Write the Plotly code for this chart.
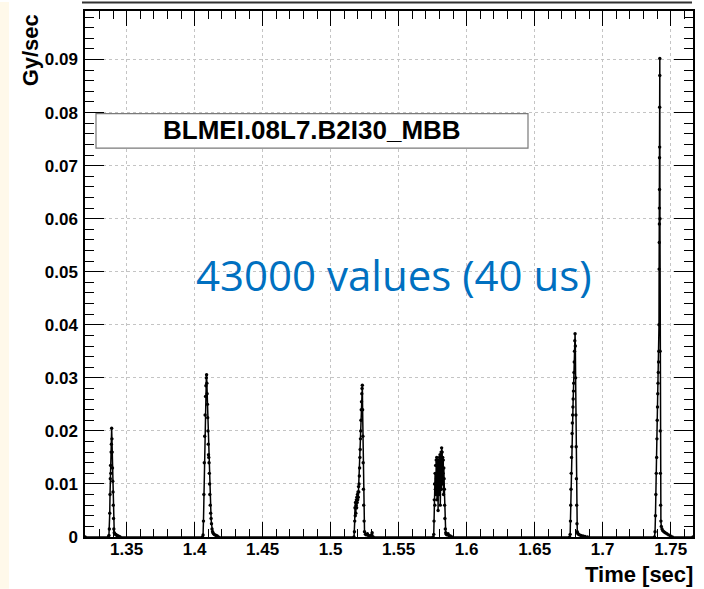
import plotly.graph_objects as go

# ---- data (time [s], dose rate [Gy/s]) ----
base_t = [1.3195, 1.7664]
base_v = [0.0, 0.0]

p1_t = [1.3366, 1.3370, 1.3373, 1.3376, 1.3378, 1.3380, 1.3382, 1.3384, 1.3386, 1.3388,
        1.3390, 1.3392, 1.3394, 1.3396, 1.3398, 1.3400, 1.3402, 1.3404, 1.3406, 1.3409,
        1.3413, 1.3418, 1.3424, 1.3430, 1.3437, 1.3445, 1.3452]
p1_v = [0.0, 0.0003, 0.0015, 0.0045, 0.0080, 0.0110, 0.0135, 0.0120, 0.0160, 0.0175,
        0.0205, 0.0185, 0.0160, 0.0130, 0.0105, 0.0085, 0.0060, 0.0035, 0.0015, 0.0008,
        0.0006, 0.0005, 0.0004, 0.0003, 0.0002, 0.0001, 0.0]

p2_t = [1.4058, 1.4062, 1.4065, 1.4068, 1.4071, 1.4074, 1.4077, 1.4080, 1.4083, 1.4086,
        1.4088, 1.4090, 1.4092, 1.4094, 1.4096, 1.4098, 1.4100, 1.4102, 1.4104, 1.4106,
        1.4108, 1.4110, 1.4112, 1.4115, 1.4118, 1.4121, 1.4124, 1.4128, 1.4132, 1.4137,
        1.4143, 1.4150, 1.4158, 1.4166, 1.4175]
p2_v = [0.0, 0.0004, 0.0030, 0.0080, 0.0140, 0.0190, 0.0230, 0.0265, 0.0285, 0.0300,
        0.0306, 0.0290, 0.0270, 0.0250, 0.0225, 0.0200, 0.0175, 0.0155, 0.0150, 0.0140,
        0.0120, 0.0100, 0.0080, 0.0060, 0.0045, 0.0035, 0.0025, 0.0015, 0.0010, 0.0007,
        0.0005, 0.0004, 0.0003, 0.0002, 0.0]

p3_t = [1.5172, 1.5175, 1.5177, 1.5179, 1.5181, 1.5183, 1.5185, 1.5187, 1.5189, 1.5191,
        1.5193, 1.5195, 1.5197, 1.5199, 1.5201, 1.5203, 1.5205, 1.5207, 1.5209, 1.5211,
        1.5213, 1.5215, 1.5217, 1.5219, 1.5221, 1.5223, 1.5225, 1.5227, 1.5229, 1.5231,
        1.5233, 1.5235, 1.5237, 1.5239, 1.5241, 1.5243, 1.5246, 1.5249, 1.5256, 1.5263,
        1.5270, 1.5278, 1.5286, 1.5300, 1.5305, 1.5312]
p3_v = [0.0, 0.0010, 0.0030, 0.0055, 0.0040, 0.0065, 0.0045, 0.0060, 0.0070, 0.0055,
        0.0075, 0.0065, 0.0080, 0.0070, 0.0085, 0.0075, 0.0095, 0.0085, 0.0100, 0.0115,
        0.0130, 0.0150, 0.0165, 0.0185, 0.0200, 0.0220, 0.0240, 0.0255, 0.0270, 0.0280,
        0.0286, 0.0240, 0.0190, 0.0140, 0.0090, 0.0060, 0.0030, 0.0010, 0.0005, 0.0004,
        0.0006, 0.0003, 0.0002, 0.0004, 0.0008, 0.0]

p4_t = [1.5754, 1.5758, 1.5760, 1.5762, 1.5764, 1.5766, 1.5768, 1.5770, 1.5772, 1.5774,
        1.5776, 1.5778, 1.5780, 1.5782, 1.5784, 1.5786, 1.5788, 1.5790, 1.5792, 1.5794,
        1.5796, 1.5798, 1.5800, 1.5802, 1.5804, 1.5806, 1.5808, 1.5810, 1.5812, 1.5814,
        1.5816, 1.5818, 1.5820, 1.5822, 1.5824, 1.5826, 1.5828, 1.5830, 1.5832, 1.5834,
        1.5836, 1.5838, 1.5840, 1.5843, 1.5846, 1.5850, 1.5856, 1.5863, 1.5870, 1.5880,
        1.5892]
p4_v = [0.0, 0.0005, 0.0030, 0.0070, 0.0100, 0.0060, 0.0120, 0.0090, 0.0135, 0.0080,
        0.0145, 0.0110, 0.0150, 0.0070, 0.0140, 0.0120, 0.0130, 0.0050, 0.0145, 0.0100,
        0.0135, 0.0080, 0.0150, 0.0115, 0.0155, 0.0060, 0.0140, 0.0125, 0.0160, 0.0090,
        0.0168, 0.0130, 0.0160, 0.0100, 0.0150, 0.0120, 0.0145, 0.0080, 0.0130, 0.0110,
        0.0090, 0.0060, 0.0035, 0.0015, 0.0008, 0.0005, 0.0004, 0.0006, 0.0003, 0.0002,
        0.0]

p5_t = [1.6757, 1.6761, 1.6763, 1.6765, 1.6767, 1.6769, 1.6771, 1.6773, 1.6775, 1.6777,
        1.6779, 1.6781, 1.6783, 1.6785, 1.6787, 1.6789, 1.6791, 1.6793, 1.6795, 1.6797,
        1.6799, 1.6801, 1.6803, 1.6805, 1.6807, 1.6809, 1.6811, 1.6813, 1.6817, 1.6822,
        1.6830, 1.6840, 1.6855, 1.6870, 1.6888]
p5_v = [0.0, 0.0005, 0.0030, 0.0060, 0.0090, 0.0120, 0.0150, 0.0170, 0.0195, 0.0215,
        0.0230, 0.0245, 0.0260, 0.0275, 0.0290, 0.0310, 0.0330, 0.0350, 0.0370, 0.0383,
        0.0360, 0.0300, 0.0230, 0.0170, 0.0110, 0.0060, 0.0025, 0.0010, 0.0007, 0.0005,
        0.0004, 0.0003, 0.0002, 0.0001, 0.0]

p6_t = [1.7381, 1.7385, 1.7388, 1.7391, 1.7394, 1.7397, 1.7399, 1.7401, 1.7403, 1.7405,
        1.7407, 1.7409, 1.7411, 1.7413, 1.7414, 1.7415, 1.7416, 1.7417, 1.7417, 1.7418,
        1.7418, 1.7419, 1.7419, 1.7420, 1.7420, 1.7421, 1.7422, 1.7423, 1.7424, 1.7426,
        1.7428, 1.7431, 1.7436, 1.7442, 1.7450, 1.7460, 1.7472, 1.7485, 1.7498, 1.7512]
p6_v = [0.0, 0.0010, 0.0040, 0.0080, 0.0120, 0.0150, 0.0185, 0.0220, 0.0245, 0.0270,
        0.0290, 0.0310, 0.0330, 0.0350, 0.0400, 0.0505, 0.0555, 0.0590, 0.0620, 0.0655,
        0.0715, 0.0735, 0.0810, 0.0870, 0.0902, 0.0600, 0.0350, 0.0200, 0.0120, 0.0060,
        0.0030, 0.0020, 0.0015, 0.0012, 0.0010, 0.0008, 0.0006, 0.0004, 0.0002, 0.0]

x_ticks = [1.35, 1.4, 1.45, 1.5, 1.55, 1.6, 1.65, 1.7, 1.75]
x_ticklabels = ["1.35", "1.4", "1.45", "1.5", "1.55", "1.6", "1.65", "1.7", "1.75"]
y_ticks = [0, 0.01, 0.02, 0.03, 0.04, 0.05, 0.06, 0.07, 0.08, 0.09]
y_ticklabels = ["0", "0.01", "0.02", "0.03", "0.04", "0.05", "0.06", "0.07", "0.08", "0.09"]

channel_name = "BLMEI.08L7.B2I30_MBB"
note_text = "43000 values (40 us)"
x_title = "Time [sec]"
y_title = "Gy/sec"

# assemble in time order
t_all = [base_t[0]] + p1_t + p2_t + p3_t + p4_t + p5_t + p6_t + [base_t[1]]
v_all = [base_v[0]] + p1_v + p2_v + p3_v + p4_v + p5_v + p6_v + [base_v[1]]

W, H = 704, 589
L, R, T, B = 85, 11, 9, 52
pw, ph = W - L - R, H - T - B

def px(x):
    return (x - L) / pw

def py(y):
    return (H - B - y) / ph

FONT = "Liberation Sans, Arial, Helvetica, sans-serif"

fig = go.Figure()
fig.add_trace(go.Scatter(
    x=t_all, y=v_all, mode="lines+markers",
    line=dict(color="black", width=1.5),
    marker=dict(color="black", size=3.4),
    showlegend=False, hoverinfo="skip",
))

axis_common = dict(
    showline=True, linecolor="black", linewidth=1.5, mirror="allticks",
    ticks="inside", tickcolor="black", tickwidth=1,
    showgrid=True, gridcolor="#c4c4c4", griddash="dot", gridwidth=1,
    zeroline=False,
    tickfont=dict(family=FONT, size=17, color="black", weight="bold"),
)

fig.update_xaxes(
    range=[1.3194, 1.7664], tickvals=x_ticks, ticktext=x_ticklabels,
    ticklen=15, minor=dict(dtick=0.01, tick0=1.35, ticklen=8, ticks="inside",
                           tickcolor="black", showgrid=False),
    ticklabelstandoff=-4,
    **axis_common,
)
fig.update_yaxes(
    range=[0, 0.09915], tickvals=y_ticks, ticktext=y_ticklabels,
    ticklen=19, minor=dict(dtick=0.002, tick0=0, ticklen=9.5, ticks="inside",
                           tickcolor="black", showgrid=False),
    ticklabelstandoff=2,
    **axis_common,
)

shapes = [
    # pale strip at the left edge
    dict(type="rect", xref="paper", yref="paper", x0=px(0), x1=px(9), y0=py(H), y1=py(0),
         fillcolor="#FFF9EA", line=dict(width=0), layer="below"),
    # frame line at the very top
    dict(type="line", xref="paper", yref="paper", x0=px(82), x1=px(692), y0=py(0.5), y1=py(0.5),
         line=dict(color="#333333", width=2)),
    # label box
    dict(type="rect", xref="paper", yref="paper", x0=px(96), x1=px(528), y0=py(146.7), y1=py(112),
         fillcolor="white", line=dict(color="#7a7a7a", width=1.2), layer="above"),
]

annotations = [
    dict(text="<b>" + channel_name + "</b>", xref="paper", yref="paper",
         x=px(312), y=py(128.5), xanchor="center", yanchor="middle", showarrow=False,
         font=dict(family=FONT, size=26, color="black")),
    dict(text=note_text, xref="paper", yref="paper",
         x=px(394), y=py(274), xanchor="center", yanchor="middle", showarrow=False,
         font=dict(family="Open Sans, Noto Sans, sans-serif", size=42, color="#0070C0")),
    dict(text="<b>" + y_title + "</b>", xref="paper", yref="paper",
         x=px(30.5), y=py(49), xanchor="center", yanchor="middle", textangle=-90,
         showarrow=False, font=dict(family=FONT, size=22, color="black")),
    dict(text="<b>" + x_title + "</b>", xref="paper", yref="paper",
         x=px(695), y=py(575), xanchor="right", yanchor="middle",
         showarrow=False, font=dict(family=FONT, size=22, color="black")),
]

fig.update_layout(
    width=W, height=H, autosize=False,
    margin=dict(l=L, r=R, t=T, b=B, pad=0),
    paper_bgcolor="white", plot_bgcolor="white",
    shapes=shapes, annotations=annotations,
    showlegend=False,
)

fig.write_html("out.html")
